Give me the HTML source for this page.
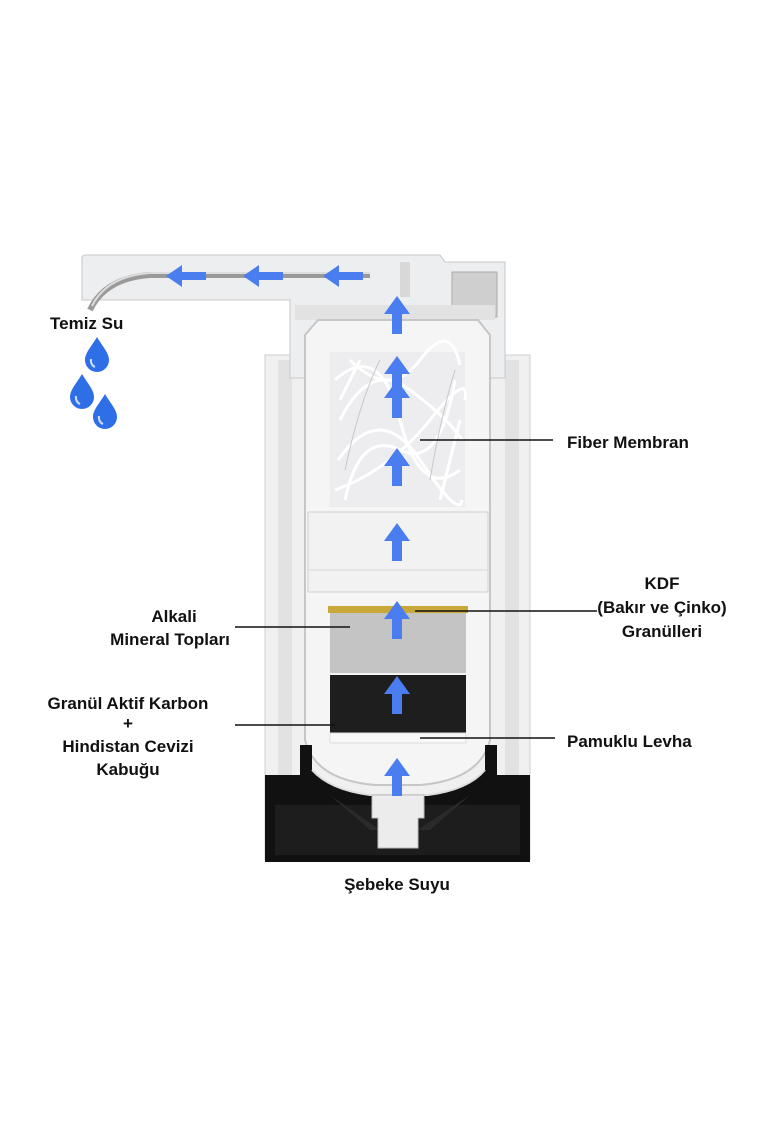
<!DOCTYPE html>
<html><head><meta charset="utf-8"><style>
html,body{margin:0;padding:0;background:#fff;}
svg{display:block;}
text{font-family:"Liberation Sans",sans-serif;font-weight:bold;font-size:17px;fill:#111;}
</style></head><body>
<svg width="760" height="1140" viewBox="0 0 760 1140" xmlns="http://www.w3.org/2000/svg">
<defs>
<g id="up"><polygon points="0,-22 13,-4 5,-4 5,16 -5,16 -5,-4 -13,-4" fill="#4a7df0"/></g>
<g id="left"><polygon points="-22,0 -6,-11 -6,-4 18,-4 18,4 -6,4 -6,11" fill="#4a7df0"/></g>
<g id="drop"><path d="M0,-18 C6,-8 12,-2 12,5 A12,12 0 0 1 -12,5 C-12,-2 -6,-8 0,-18Z" fill="#2e6fe8"/><path d="M-6,4 A6,7 0 0 0 -2,12" stroke="#cfe0ff" stroke-width="2" fill="none"/></g>
</defs>
<!-- outer housing -->
<rect x="265" y="355" width="265" height="505" fill="#f0f0f0" stroke="#cfcfcf"/>
<rect x="278" y="360" width="14" height="420" fill="#e2e2e2"/>
<rect x="505" y="360" width="14" height="420" fill="#e2e2e2"/>
<!-- neck / top cap -->
<path d="M82,258 Q82,255 86,255 L440,255 L445,262 L505,262 L505,378 L290,378 L290,300 L82,300Z" fill="#eceef0" stroke="#c8c8c8"/>
<rect x="452" y="272" width="45" height="45" fill="#cfcfcf" stroke="#aaa"/>
<rect x="295" y="305" width="200" height="15" fill="#e2e2e2"/>
<rect x="400" y="262" width="10" height="35" fill="#d8d8d8"/>
<!-- spout pipe -->
<path d="M370,275 L150,275 Q105,278 90,310" stroke="#9a9a9a" stroke-width="6" fill="none"/>
<path d="M370,273 L150,273 Q107,276 92,306" stroke="#dcdcdc" stroke-width="2" fill="none"/>
<!-- cartridge -->
<path d="M305,335 L318,320 L478,320 L490,335 L490,740 Q480,780 420,785 L375,785 Q315,780 305,740Z" fill="#f5f5f5" stroke="#c6c6c6" stroke-width="2"/>
<rect x="330" y="352" width="135" height="155" fill="#ededf0"/>
<g stroke="#ffffff" stroke-width="3" fill="none">
<path d="M335,380 Q380,340 400,420 T460,470"/><path d="M340,420 Q370,360 410,390 T462,440"/>
<path d="M338,460 Q380,400 420,460 T462,500"/><path d="M345,500 Q360,430 400,450 T455,380"/>
<path d="M350,360 Q390,400 420,360 T460,365"/><path d="M335,490 Q390,470 430,420 T465,400"/>
<path d="M340,400 L360,360"/><path d="M440,500 L460,420"/>
</g>
<g stroke="#c8c8cc" stroke-width="1" fill="none">
<path d="M345,470 Q360,400 380,360"/><path d="M430,480 Q440,420 455,370"/>
</g>
<rect x="308" y="512" width="180" height="80" fill="#f2f2f2" stroke="#d0d0d0"/>
<line x1="308" y1="570" x2="488" y2="570" stroke="#d6d6d6"/>
<rect x="328" y="606" width="140" height="7" fill="#c9a83a"/>
<rect x="330" y="613" width="136" height="60" fill="#c4c4c4"/>
<rect x="330" y="675" width="136" height="58" fill="#1e1e1e"/>
<rect x="330" y="733" width="136" height="10" fill="#f8f8f8" stroke="#ddd"/>
<!-- black base -->
<path d="M265,775 L300,775 L300,745 L312,745 L312,770 Q330,790 370,795 L428,795 Q468,790 485,770 L485,745 L497,745 L497,775 L530,775 L530,862 L265,862Z" fill="#111"/>
<path d="M312,770 Q330,790 370,795 L428,795 Q468,790 485,770" stroke="#ddd" stroke-width="2" fill="none"/>
<rect x="275" y="805" width="245" height="50" fill="#1d1d1d"/>
<path d="M330,795 L370,830 L380,830 Z M470,795 L430,830 L418,830Z" fill="#2a2a2a"/>
<path d="M372,795 L372,818 L378,818 L378,848 L418,848 L418,818 L424,818 L424,795Z" fill="#ececec" stroke="#bbb"/>
<!-- arrows -->
<use href="#up" x="397" y="318"/><use href="#up" x="397" y="378"/>
<use href="#up" x="397" y="402"/><use href="#up" x="397" y="470"/>
<use href="#up" x="397" y="545"/><use href="#up" x="397" y="623"/>
<use href="#up" x="397" y="698"/><use href="#up" x="397" y="780"/>
<use href="#left" x="188" y="276"/><use href="#left" x="265" y="276"/><use href="#left" x="345" y="276"/>
<!-- drops -->
<use href="#drop" x="97" y="355"/><use href="#drop" x="82" y="392"/><use href="#drop" x="105" y="412"/>
<!-- leader lines -->
<g stroke="#111" stroke-width="1.5">
<line x1="420" y1="440" x2="553" y2="440"/>
<line x1="415" y1="611" x2="597" y2="611"/>
<line x1="235" y1="627" x2="350" y2="627"/>
<line x1="235" y1="725" x2="335" y2="725"/>
<line x1="420" y1="738" x2="555" y2="738"/>
</g>
<!-- labels -->
<text x="50" y="329">Temiz Su</text>
<text x="567" y="448">Fiber Membran</text>
<g text-anchor="middle">
<text x="662" y="589">KDF</text>
<text x="662" y="613">(Bakır ve Çinko)</text>
<text x="662" y="637">Granülleri</text>
<text x="174" y="622">Alkali</text>
<text x="170" y="645">Mineral Topları</text>
<text x="128" y="709">Granül Aktif Karbon</text>
<text x="128" y="729">+</text>
<text x="128" y="752">Hindistan Cevizi</text>
<text x="128" y="775">Kabuğu</text>
<text x="397" y="890">Şebeke Suyu</text>
</g>
<text x="567" y="747">Pamuklu Levha</text>
</svg>
</body></html>
